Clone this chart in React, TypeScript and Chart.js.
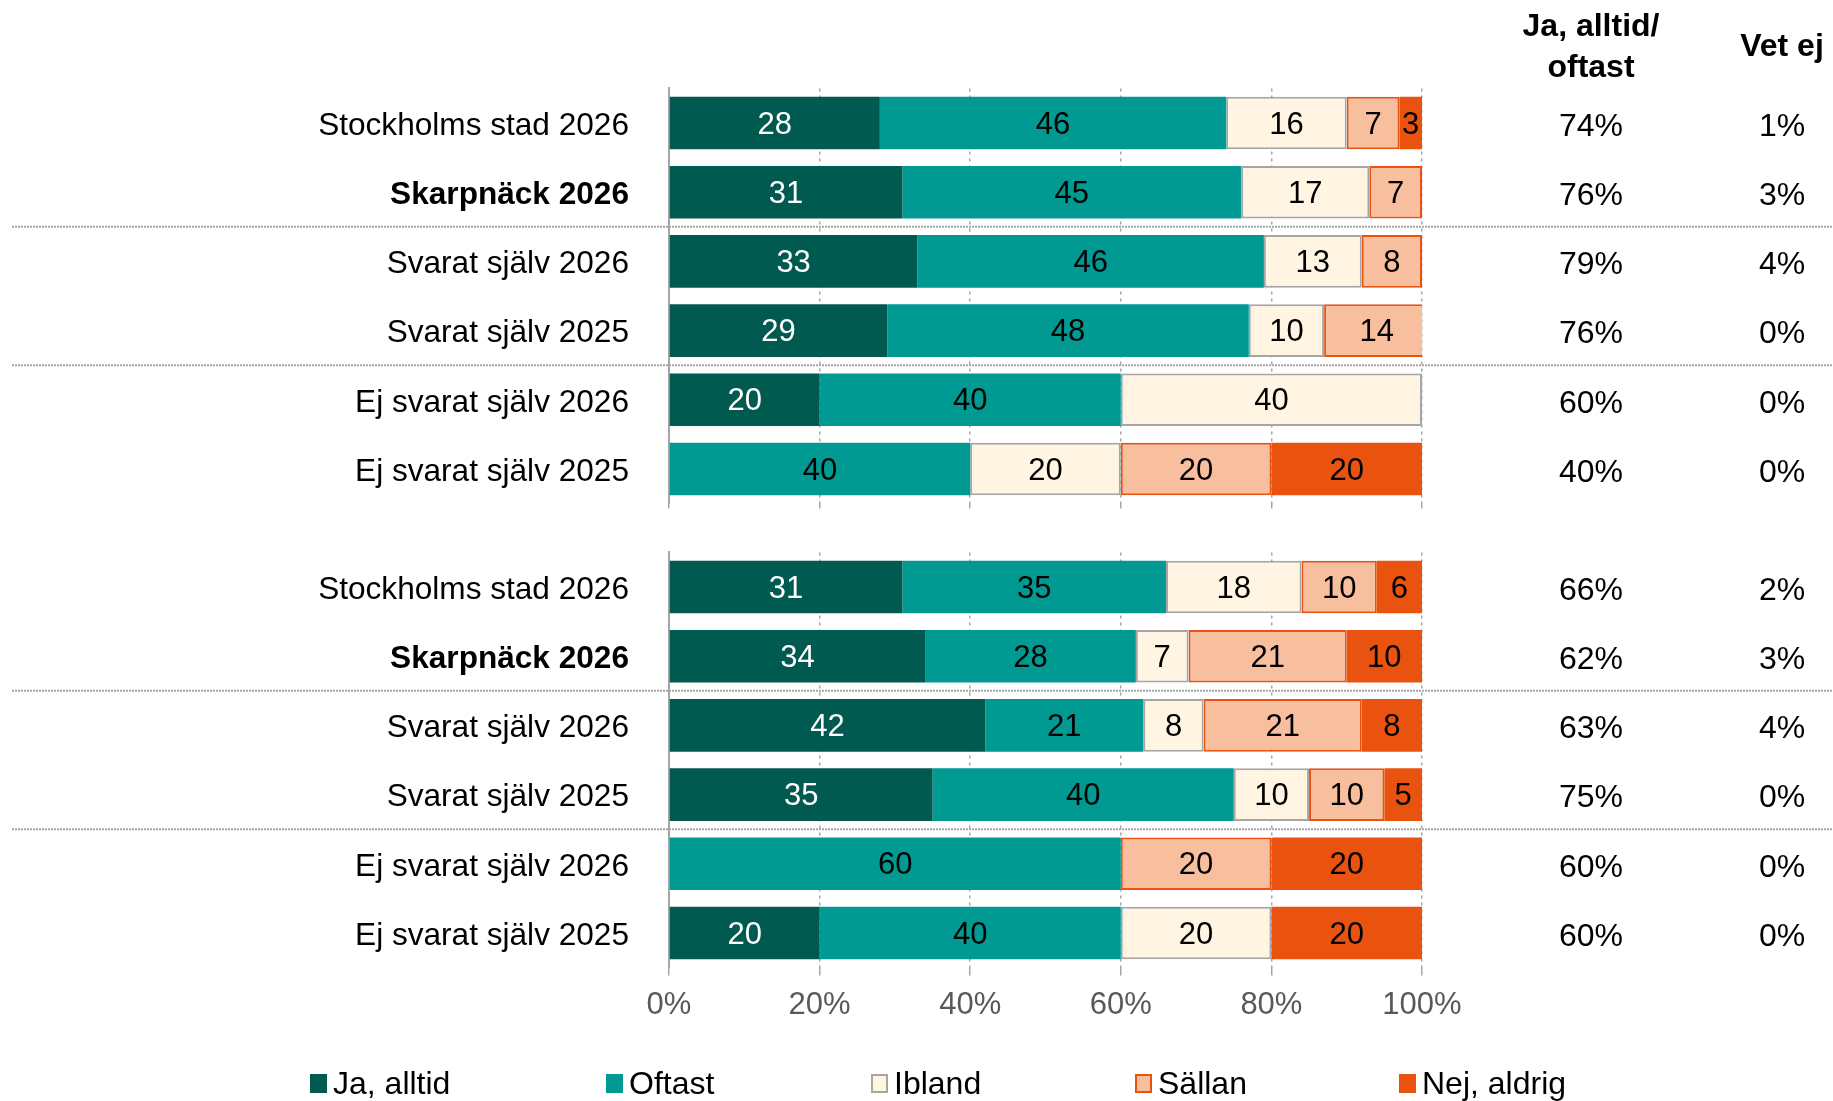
import React, { useEffect, useRef } from "react";
import { Chart, registerables } from "chart.js";
Chart.register(...registerables);

const categories = [
  "Stockholms stad 2026",
  "Skarpnäck 2026",
  "Svarat själv 2026",
  "Svarat själv 2025",
  "Ej svarat själv 2026",
  "Ej svarat själv 2025",
];
const seriesNames = ["Ja, alltid", "Oftast", "Ibland", "Sällan", "Nej, aldrig"];

// Top panel
const topJaAlltid = [28, 31, 33, 29, 20, 0];
const topOftast = [46, 45, 46, 48, 40, 40];
const topIbland = [16, 17, 13, 10, 40, 20];
const topSallan = [7, 7, 8, 14, 0, 20];
const topNejAldrig = [3, 0, 0, 0, 0, 20];
const topJaOftastCol = ["74%", "76%", "79%", "76%", "60%", "40%"];
const topVetEjCol = ["1%", "3%", "4%", "0%", "0%", "0%"];

// Bottom panel
const botJaAlltid = [31, 34, 42, 35, 0, 20];
const botOftast = [35, 28, 21, 40, 60, 40];
const botIbland = [18, 7, 8, 10, 0, 20];
const botSallan = [10, 21, 21, 10, 20, 0];
const botNejAldrig = [6, 10, 8, 5, 20, 20];
const botJaOftastCol = ["66%", "62%", "63%", "75%", "60%", "60%"];
const botVetEjCol = ["2%", "3%", "4%", "0%", "0%", "0%"];

const xTickValues = [0, 20, 40, 60, 80, 100];
const separatorsAfter = [1, 3];
const boldCategory = "Skarpnäck 2026";
const colHeader1 = ["Ja, alltid/", "oftast"];
const colHeader2 = "Vet ej";

const FONT = '"Liberation Sans", Arial, sans-serif';
const fills = ["#005A4F", "#009A92", "#FFF5E2", "#F8BF9F", "#E9520F"];
const borders = ["#005A4F", "#009A92", "#A6A6A6", "#E9520F", "#E9520F"];
const borderWidths = [0, 0, 2, 2, 0];
const labelColors = ["#ffffff", "#000000", "#000000", "#000000", "#000000"];

const COL1_X = 1591;
const COL2_X = 1782;
const PLOT_LEFT = 669;
const PLOT_RIGHT = 1422;
const WIDTH = 1833;

function buildDatasets(series: number[][]) {
  return series.map((vals, i) => ({
    label: seriesNames[i],
    data: vals.map((v) => (v > 0 ? v : null)),
    backgroundColor: fills[i],
    borderColor: borders[i],
    borderWidth: borderWidths[i],
    borderSkipped: false,
    barPercentage: 0.76,
    categoryPercentage: 1,
  }));
}

const dataLabelPlugin = {
  id: "dataLabels",
  afterDatasetsDraw(chart: any) {
    const ctx = chart.ctx;
    ctx.save();
    ctx.font = `31px ${FONT}`;
    ctx.textAlign = "center";
    ctx.textBaseline = "middle";
    chart.data.datasets.forEach((ds: any, di: number) => {
      const meta = chart.getDatasetMeta(di);
      meta.data.forEach((el: any, i: number) => {
        const v = ds.data[i];
        if (v == null || v <= 0) return;
        ctx.fillStyle = labelColors[di];
        ctx.fillText(String(v), (el.x + el.base) / 2, el.y + 2);
      });
    });
    ctx.restore();
  },
};

function makeSidePlugin(col1: string[], col2: string[], withHeader: boolean) {
  return {
    id: "sideCols",
    beforeDatasetsDraw(chart: any) {
      const ctx = chart.ctx;
      const y = chart.scales.y;
      ctx.save();
      ctx.strokeStyle = "#A6A6A6";
      ctx.lineWidth = 2;
      ctx.setLineDash([2, 1]);
      separatorsAfter.forEach((i) => {
        const py = (y.getPixelForValue(i) + y.getPixelForValue(i + 1)) / 2;
        ctx.beginPath();
        ctx.moveTo(12, py);
        ctx.lineTo(WIDTH, py);
        ctx.stroke();
      });
      ctx.restore();
    },
    afterDraw(chart: any) {
      const ctx = chart.ctx;
      const y = chart.scales.y;
      ctx.save();
      ctx.fillStyle = "#000";
      ctx.textAlign = "center";
      ctx.textBaseline = "middle";
      ctx.font = `32px ${FONT}`;
      categories.forEach((_, i) => {
        const py = y.getPixelForValue(i) + 4;
        ctx.fillText(col1[i], COL1_X, py);
        ctx.fillText(col2[i], COL2_X, py);
      });
      if (withHeader) {
        ctx.font = `bold 32px ${FONT}`;
        ctx.fillText(colHeader1[0], COL1_X, 27);
        ctx.fillText(colHeader1[1], COL1_X, 68);
        ctx.fillText(colHeader2, COL2_X, 47);
      }
      ctx.restore();
    },
  };
}

function makeConfig(series: number[][], col1: string[], col2: string[], top: boolean) {
  const canvasH = top ? 520 : 581;
  const areaTop = top ? 88.4 : 32.4;
  const areaBottom = top ? 503.6 : 447.6;
  const xHeight = top ? 0 : 60;
  return {
    type: "bar",
    data: { labels: categories, datasets: buildDatasets(series) },
    options: {
      indexAxis: "y",
      animation: false,
      responsive: false,
      maintainAspectRatio: false,
      layout: {
        padding: {
          left: 0,
          right: WIDTH - PLOT_RIGHT,
          top: areaTop,
          bottom: canvasH - areaBottom - xHeight,
        },
      },
      plugins: { legend: { display: false }, tooltip: { enabled: false } },
      scales: {
        x: {
          type: "linear",
          stacked: true,
          min: 0,
          max: 100,
          afterBuildTicks: (s: any) => {
            s.ticks = xTickValues.map((v) => ({ value: v }));
          },
          afterFit: (s: any) => {
            s.height = xHeight;
            s.paddingLeft = 0;
            s.paddingRight = 0;
          },
          ticks: {
            display: !top,
            color: "#595959",
            font: { family: FONT, size: 31 },
            padding: 11,
            callback: (v: any) => `${v}%`,
          },
          grid: {
            color: "#A6A6A6",
            lineWidth: 1.5,
            tickLength: top ? 5 : 8,
            drawTicks: true,
          },
          border: { display: false, dash: [3, 4] },
        },
        y: {
          type: "category",
          stacked: true,
          afterFit: (s: any) => {
            s.width = PLOT_LEFT;
            s.paddingTop = 0;
            s.paddingBottom = 0;
          },
          ticks: {
            color: "#000",
            padding: 40,
            labelOffset: 3,
            font: (c: any) => ({
              family: FONT,
              size: 31.6,
              weight: categories[c.index] === boldCategory ? "bold" : "normal",
            }),
          },
          grid: { display: false, drawTicks: false, tickLength: 0 },
          border: { display: true, color: "#A6A6A6", width: 2 },
        },
      },
    },
    plugins: [makeSidePlugin(col1, col2, top), dataLabelPlugin],
  };
}

function Panel({ series, col1, col2, top }: any) {
  const ref = useRef<HTMLCanvasElement | null>(null);
  useEffect(() => {
    if (!ref.current) return;
    const chart = new Chart(ref.current, makeConfig(series, col1, col2, top) as any);
    return () => chart.destroy();
  }, []);
  const h = top ? 520 : 581;
  return (
    <canvas
      ref={ref}
      width={WIDTH}
      height={h}
      style={{ position: "absolute", left: 0, top: top ? 0 : 520, width: WIDTH, height: h }}
    />
  );
}

const legendLefts = [310, 606, 871, 1135, 1399];

export default function App() {
  return (
    <div
      style={{
        position: "fixed",
        left: 0,
        top: 0,
        width: WIDTH,
        height: 1101,
        background: "#fff",
        overflow: "hidden",
        fontFamily: FONT,
      }}
    >
      <Panel
        top={true}
        series={[topJaAlltid, topOftast, topIbland, topSallan, topNejAldrig]}
        col1={topJaOftastCol}
        col2={topVetEjCol}
      />
      <Panel
        top={false}
        series={[botJaAlltid, botOftast, botIbland, botSallan, botNejAldrig]}
        col1={botJaOftastCol}
        col2={botVetEjCol}
      />
      {seriesNames.map((name, i) => (
        <div
          key={name}
          style={{
            position: "absolute",
            left: legendLefts[i],
            top: 1064,
            height: 38,
            display: "flex",
            alignItems: "center",
            fontSize: 32,
            color: "#000",
            whiteSpace: "nowrap",
          }}
        >
          <span
            style={{
              display: "inline-block",
              width: 17,
              height: 19,
              boxSizing: "border-box",
              background: fills[i],
              border: borderWidths[i] ? `2px solid ${borders[i]}` : "none",
              marginRight: 6,
            }}
          />
          {name}
        </div>
      ))}
    </div>
  );
}
